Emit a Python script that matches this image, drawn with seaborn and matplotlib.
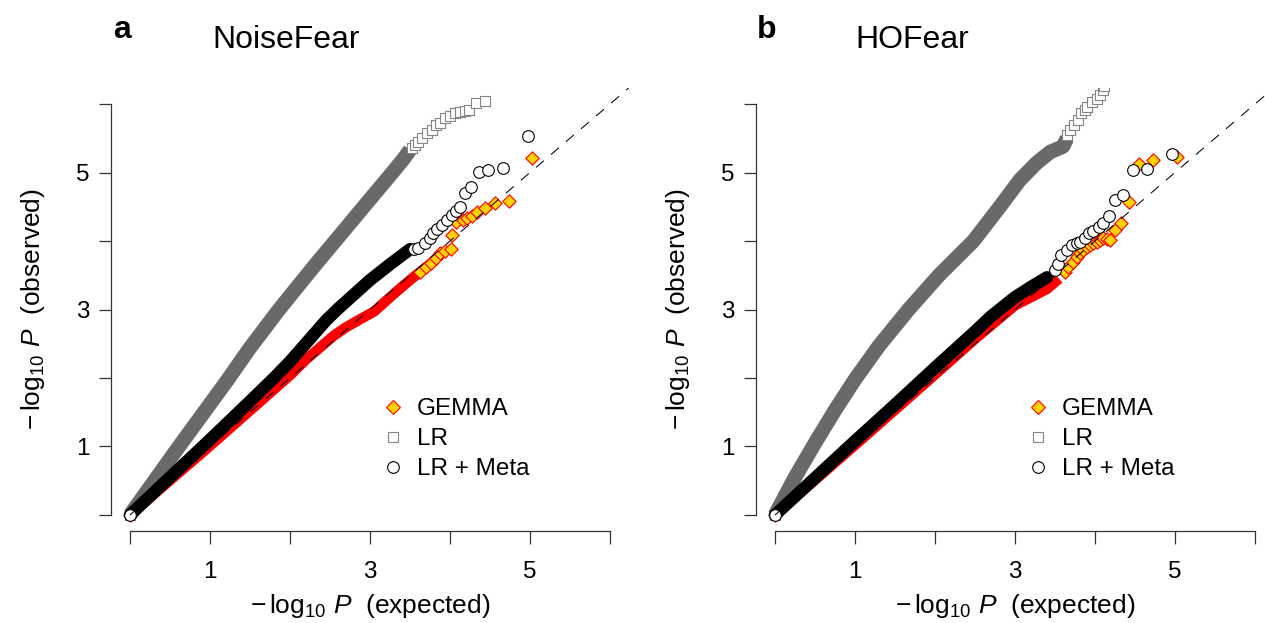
import matplotlib
matplotlib.use("Agg")
import matplotlib.pyplot as plt
import seaborn as sns
import pandas as pd
from matplotlib.lines import Line2D

# ---------------- values ----------------
# Panel a : NoiseFear   (x = expected -log10 P, y = observed -log10 P)
a_lr_band_x = [0.0, 0.3, 0.6, 0.9, 1.2, 1.5, 1.85, 2.05, 2.3, 2.55, 2.8, 3.05, 3.28, 3.42, 3.5]
a_lr_band_y = [0.0, 0.49, 0.98, 1.46, 1.94, 2.44, 2.98, 3.27, 3.63, 3.98, 4.33, 4.68, 5.0, 5.2, 5.33]
a_lr_tail_x = [0.0, 3.52, 3.56, 3.60, 3.65, 3.71, 3.77, 3.83, 3.88, 3.94, 4.00, 4.06, 4.13, 4.19, 4.24, 4.33, 4.44]
a_lr_tail_y = [0.0, 5.36, 5.40, 5.45, 5.50, 5.57, 5.62, 5.69, 5.73, 5.79, 5.82, 5.87, 5.89, 5.90, 5.91, 6.01, 6.05]

a_meta_band_x = [0.0, 0.5, 1.0, 1.5, 1.8, 2.0, 2.15, 2.3, 2.45, 2.6, 2.8, 3.0, 3.25, 3.5]
a_meta_band_y = [0.0, 0.55, 1.10, 1.66, 2.0, 2.24, 2.44, 2.64, 2.84, 3.01, 3.22, 3.43, 3.66, 3.88]
a_meta_tail_x = [0.0, 3.55, 3.60, 3.69, 3.75, 3.79, 3.84, 3.90, 3.96, 4.02, 4.08, 4.13, 4.19, 4.26, 4.36, 4.48, 4.66, 4.97]
a_meta_tail_y = [0.0, 3.88, 3.90, 3.97, 4.05, 4.12, 4.18, 4.23, 4.31, 4.38, 4.44, 4.50, 4.70, 4.79, 5.01, 5.03, 5.07, 5.53]

a_gem_band_x = [0.0, 1.0, 2.0, 2.2, 2.4, 2.55, 2.7, 2.88, 3.05, 3.3, 3.52, 3.75, 3.93]
a_gem_band_y = [0.0, 1.01, 2.04, 2.27, 2.47, 2.62, 2.74, 2.86, 2.97, 3.23, 3.45, 3.66, 3.86]
a_gem_tail_x = [0.0, 3.62, 3.70, 3.76, 3.82, 3.88, 3.94, 4.01, 4.02, 4.08, 4.16, 4.21, 4.27, 4.34, 4.44, 4.56, 4.74, 5.03]
a_gem_tail_y = [0.0, 3.55, 3.62, 3.68, 3.75, 3.82, 3.86, 3.88, 4.09, 4.28, 4.31, 4.34, 4.37, 4.43, 4.48, 4.56, 4.59, 5.21]

# Panel b : HOFear
b_lr_band_x = [0.0, 0.25, 0.5, 0.75, 1.0, 1.3, 1.67, 2.05, 2.48, 2.81, 3.06, 3.27, 3.44, 3.6, 3.65]
b_lr_band_y = [0.0, 0.55, 1.05, 1.53, 1.98, 2.47, 3.0, 3.5, 4.0, 4.5, 4.89, 5.14, 5.30, 5.38, 5.5]
b_lr_tail_x = [0.0, 3.65, 3.69, 3.74, 3.79, 3.83, 3.87, 3.90, 3.96, 4.02, 4.06, 4.10, 4.11]
b_lr_tail_y = [0.0, 5.55, 5.62, 5.70, 5.77, 5.87, 5.92, 5.96, 6.03, 6.08, 6.13, 6.20, 6.27]

b_meta_band_x = [0.0, 0.5, 1.0, 1.5, 2.0, 2.5, 2.7, 3.0, 3.2, 3.4]
b_meta_band_y = [0.0, 0.54, 1.08, 1.61, 2.15, 2.68, 2.9, 3.18, 3.33, 3.47]
b_meta_tail_x = [0.0, 3.50, 3.54, 3.58, 3.65, 3.71, 3.77, 3.81, 3.87, 3.93, 3.98, 4.05, 4.10, 4.17, 4.25, 4.35, 4.48, 4.65, 4.96]
b_meta_tail_y = [0.0, 3.58, 3.67, 3.80, 3.87, 3.94, 3.97, 3.99, 4.05, 4.11, 4.14, 4.20, 4.26, 4.36, 4.60, 4.67, 5.04, 5.05, 5.27]

b_gem_band_x = [0.0, 1.0, 2.0, 2.5, 3.0, 3.4, 3.55]
b_gem_band_y = [0.0, 1.02, 2.05, 2.57, 3.06, 3.30, 3.45]
b_gem_tail_x = [0.0, 3.62, 3.66, 3.72, 3.77, 3.81, 3.85, 3.90, 3.94, 3.98, 4.02, 4.06, 4.10, 4.15, 4.19, 4.25, 4.33, 4.43, 4.55, 4.73, 5.03]
b_gem_tail_y = [0.0, 3.55, 3.62, 3.70, 3.77, 3.82, 3.87, 3.91, 3.94, 3.97, 3.99, 4.02, 4.04, 4.03, 4.02, 4.16, 4.26, 4.57, 5.13, 5.18, 5.23]

series_labels = ["GEMMA", "LR", "LR + Meta"]
tick_values = [0, 1, 2, 3, 4, 5, 6]
tick_labels = ["", "1", "", "3", "", "5", ""]
panel_letters = ["a", "b"]
panel_titles = ["NoiseFear", "HOFear"]

# ---------------- styling ----------------
sns.set_theme(style="white")
plt.rcParams["font.family"] = ["Liberation Sans", "DejaVu Sans"]
plt.rcParams["mathtext.fontset"] = "custom"
plt.rcParams["mathtext.rm"] = "Liberation Sans"
plt.rcParams["mathtext.it"] = "Liberation Sans:italic"
plt.rcParams["mathtext.bf"] = "Liberation Sans:bold"
plt.rcParams["text.color"] = "black"
plt.rcParams["axes.labelcolor"] = "black"
plt.rcParams["xtick.labelcolor"] = "black"
plt.rcParams["ytick.labelcolor"] = "black"

GOLD = "#FFD200"
RED = "#FF0000"
GRAY_BAND = "#696969"
GRAY_EDGE = "#858585"
AXCOL = "#333333"

TICK_FS = 17.5
LAB_FS = 19
LEG_FS = 17.5
TITLE_FS = 23

W, H = 1265, 623
fig = plt.figure(figsize=(W / 100, H / 100), dpi=100)
fig.patch.set_facecolor("white")

axes_px = [(110.8, 87.6, 518.4, 443.8), (755.8, 87.6, 518.4, 443.8)]
LIM = (-0.24, 6.24)

panels = [
    dict(lr=(a_lr_band_x, a_lr_band_y, a_lr_tail_x, a_lr_tail_y),
         meta=(a_meta_band_x, a_meta_band_y, a_meta_tail_x, a_meta_tail_y),
         gem=(a_gem_band_x, a_gem_band_y, a_gem_tail_x, a_gem_tail_y)),
    dict(lr=(b_lr_band_x, b_lr_band_y, b_lr_tail_x, b_lr_tail_y),
         meta=(b_meta_band_x, b_meta_band_y, b_meta_tail_x, b_meta_tail_y),
         gem=(b_gem_band_x, b_gem_band_y, b_gem_tail_x, b_gem_tail_y)),
]

MS_SQ, MS_CI, MS_DI = 7.2, 8.4, 6.8

for i, pdata in enumerate(panels):
    left, top, w, h = axes_px[i]
    ax = fig.add_axes([left / W, (H - top - h) / H, w / W, h / H])
    ax.set_facecolor("white")

    # LR (grey squares)
    bx, by, tx, ty = pdata["lr"]
    sns.lineplot(x=bx, y=by, ax=ax, sort=False, estimator=None, color=GRAY_BAND,
                 lw=10.5, solid_capstyle="butt", solid_joinstyle="round", zorder=2, legend=False)
    sns.scatterplot(x=tx, y=ty, ax=ax, marker="s", s=MS_SQ ** 2, color="white",
                    edgecolor=GRAY_EDGE, linewidth=0.8, zorder=2.5, legend=False)

    # GEMMA (gold diamonds, red edge)
    bx, by, tx, ty = pdata["gem"]
    sns.lineplot(x=bx, y=by, ax=ax, sort=False, estimator=None, color=RED,
                 lw=7.5, solid_capstyle="butt", solid_joinstyle="round", zorder=3, legend=False)
    sns.scatterplot(x=tx, y=ty, ax=ax, marker="D", s=MS_DI ** 2, color=GOLD,
                    edgecolor=RED, linewidth=0.8, zorder=3.5, legend=False)

    # LR + Meta (open circles)
    bx, by, tx, ty = pdata["meta"]
    sns.lineplot(x=bx, y=by, ax=ax, sort=False, estimator=None, color="black",
                 lw=9.0, solid_capstyle="round", solid_joinstyle="round", zorder=4, legend=False)
    sns.scatterplot(x=tx, y=ty, ax=ax, marker="o", s=MS_CI ** 2, color="white",
                    edgecolor="black", linewidth=0.8, zorder=4.5, legend=False)

    # identity line from the origin to the plot corner
    ax.plot([0, LIM[1]], [0, LIM[1]], color="black", lw=0.75, ls=(0, (10, 9)), zorder=6)

    ax.set_xlim(*LIM)
    ax.set_ylim(*LIM)
    ax.set_xticks(tick_values)
    ax.set_xticklabels(tick_labels)
    ax.set_yticks(tick_values)
    ax.set_yticklabels(tick_labels)
    for sp in ["top", "right"]:
        ax.spines[sp].set_visible(False)
    for sp in ["bottom", "left"]:
        ax.spines[sp].set_color(AXCOL)
        ax.spines[sp].set_linewidth(0.9)
        ax.spines[sp].set_bounds(0, 6)
    ax.tick_params(axis="x", direction="out", length=9.5, width=0.9, color=AXCOL,
                   labelsize=TICK_FS, pad=12, labelcolor="black", bottom=True)
    ax.tick_params(axis="y", direction="out", length=8.5, width=0.9, color=AXCOL,
                   labelsize=TICK_FS, pad=7, labelcolor="black", left=True)

    ax.set_xlabel(r"$-\,\log_{10}\,P$  (expected)", fontsize=LAB_FS, color="black")
    ax.xaxis.set_label_coords(0.5, -0.168)
    ax.xaxis.label.set_verticalalignment("center")
    ax.set_ylabel(r"$-\,\log_{10}\,P$  (observed)", fontsize=LAB_FS, color="black")
    ax.yaxis.set_label_coords(-0.150, 0.5)
    ax.yaxis.label.set_verticalalignment("center")

    # legend
    handles = [
        Line2D([], [], ls="", marker="D", markersize=MS_DI, markerfacecolor=GOLD,
               markeredgecolor=RED, markeredgewidth=0.8),
        Line2D([], [], ls="", marker="s", markersize=MS_SQ, markerfacecolor="white",
               markeredgecolor=GRAY_EDGE, markeredgewidth=0.8),
        Line2D([], [], ls="", marker="o", markersize=MS_CI, markerfacecolor="white",
               markeredgecolor="black", markeredgewidth=0.8),
    ]
    ax.legend(handles, series_labels, loc="upper left", bbox_to_anchor=(0.522, 0.300),
              frameon=False, borderpad=0, borderaxespad=0, handlelength=0.95,
              handletextpad=0.5, labelspacing=0.33, fontsize=LEG_FS)

    # panel letter + title
    ax.text(0.004 - 0.002 * i, 1.112, panel_letters[i], transform=ax.transAxes,
            fontsize=TITLE_FS, fontweight="bold", ha="left", va="baseline", color="black")
    ax.text(0.195 - 0.002 * i, 1.089, panel_titles[i], transform=ax.transAxes,
            fontsize=TITLE_FS, ha="left", va="baseline", color="black")

fig.savefig("out.png", dpi=100, facecolor="white")
